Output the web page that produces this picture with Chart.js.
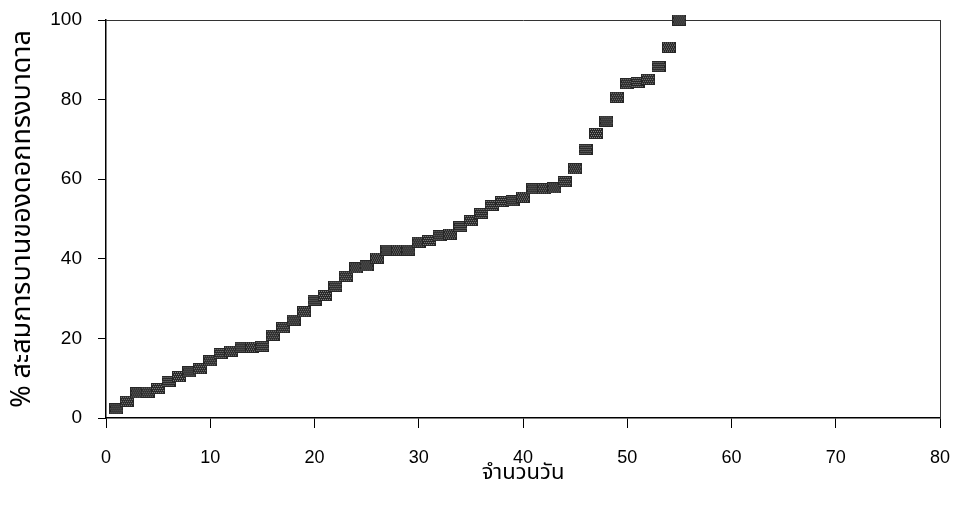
<!DOCTYPE html>
<html>
<head>
<meta charset="utf-8">
<script src="https://cdn.jsdelivr.net/npm/chart.js@4"></script>
<style>
  html, body { margin: 0; padding: 0; background: #fff; }
  #wrap { width: 955px; height: 520px; }
</style>
</head>
<body>
<div id="wrap"><canvas id="c" width="955" height="520"></canvas></div>
<script>
// Days since the first bloom and the cumulative share of flowers open (%)
const days = [1, 2, 3, 4, 5, 6, 7, 8, 9, 10,
              11, 12, 13, 14, 15, 16, 17, 18, 19, 20,
              21, 22, 23, 24, 25, 26, 27, 28, 29, 30,
              31, 32, 33, 34, 35, 36, 37, 38, 39, 40,
              41, 42, 43, 44, 45, 46, 47, 48, 49, 50,
              51, 52, 53, 54, 55];
const bloomPct = [2.3, 4.2, 6.3, 6.5, 7.4, 9.2, 10.4, 11.6, 12.4, 14.4,
                  16.2, 16.8, 17.8, 17.8, 18.0, 20.8, 22.7, 24.6, 26.7, 29.6,
                  30.8, 33.1, 35.6, 37.7, 38.2, 40.2, 42.2, 42.2, 42.2, 44.2,
                  44.6, 45.8, 46.2, 48.1, 49.6, 51.4, 53.4, 54.4, 54.6, 55.5,
                  57.6, 57.6, 57.8, 59.4, 62.6, 67.5, 71.5, 74.6, 80.6, 84.0,
                  84.3, 85.1, 88.3, 93.2, 100];
const xTicks = [0, 10, 20, 30, 40, 50, 60, 70, 80];
const yTicks = [0, 20, 40, 60, 80, 100];
const xTitle = 'จำนวนวัน';
const yTitle = '% สะสมการบานของดอกทรงบาดาล';

const FONT = "'Liberation Sans', Arial, sans-serif";
const THAI_FONT = "'Noto Sans Thai', 'Loma', 'Garuda', Tahoma, 'Liberation Sans', sans-serif";

// Dark halftone block used as the point marker
function makeMarker() {
  const w = 14, h = 11;
  const cv = document.createElement('canvas');
  cv.width = w; cv.height = h;
  const g = cv.getContext('2d');
  g.fillStyle = '#262626';
  g.fillRect(0, 0, w, h);
  g.fillStyle = '#8c8c8c';
  for (let y = 1; y < h - 1; y += 2) {
    for (let x = 1 + ((y >> 1) % 2); x < w - 1; x += 2) g.fillRect(x, y, 1, 1);
  }
  return cv;
}

const points = days.map((d, i) => ({ x: d, y: bloomPct[i] }));

// Keep edge tick labels from pushing the plot area inward
function noEdgePadding(s) {
  s.paddingLeft = 0; s.paddingRight = 0; s.paddingTop = 0; s.paddingBottom = 0;
}

new Chart(document.getElementById('c'), {
  type: 'scatter',
  data: {
    datasets: [{
      data: points,
      pointStyle: makeMarker(),
      pointRadius: 7,
      pointHoverRadius: 7,
      clip: false
    }]
  },
  options: {
    responsive: false,
    animation: false,
    devicePixelRatio: 1,
    layout: { padding: { top: 20, right: 15, left: 0, bottom: 0 } },
    plugins: { legend: { display: false }, tooltip: { enabled: false } },
    scales: {
      x: {
        type: 'linear', position: 'bottom', min: 0, max: 80,
        afterBuildTicks: s => { s.ticks = xTicks.map(v => ({ value: v })); },
        afterFit: s => { s.height = 102; noEdgePadding(s); },
        grid: { display: true, drawOnChartArea: false, drawTicks: true, tickLength: 10, color: '#000', lineWidth: 1 },
        border: { display: true, color: '#000', width: 1.5 },
        ticks: { color: '#000', font: { family: FONT, size: 18 }, padding: 19, maxRotation: 0 },
        title: { display: true, text: xTitle, color: '#000', font: { family: THAI_FONT, size: 22 }, padding: { top: 0, bottom: 32 } }
      },
      y: {
        type: 'linear', position: 'left', min: 0, max: 100,
        afterBuildTicks: s => { s.ticks = yTicks.map(v => ({ value: v })); },
        afterFit: s => { s.width = 106; noEdgePadding(s); },
        grid: { display: true, drawOnChartArea: false, drawTicks: true, tickLength: 8, color: '#000', lineWidth: 1 },
        border: { display: true, color: '#000', width: 1.5 },
        ticks: { color: '#000', font: { family: FONT, size: 19 }, padding: 16 },
        title: { display: true, text: yTitle, color: '#000', font: { family: THAI_FONT, size: 27 }, padding: { top: 8, bottom: 0 } }
      },
      xTop: {
        type: 'linear', position: 'top', min: 0, max: 80,
        afterFit: s => { s.height = 0; noEdgePadding(s); },
        grid: { display: false },
        ticks: { display: false },
        border: { display: true, color: '#333', width: 1, dash: [1, 2] }
      },
      yRight: {
        type: 'linear', position: 'right', min: 0, max: 100,
        afterFit: s => { s.width = 0; noEdgePadding(s); },
        grid: { display: false },
        ticks: { display: false },
        border: { display: true, color: '#333', width: 1, dash: [1, 2] }
      }
    }
  }
});
</script>
</body>
</html>
